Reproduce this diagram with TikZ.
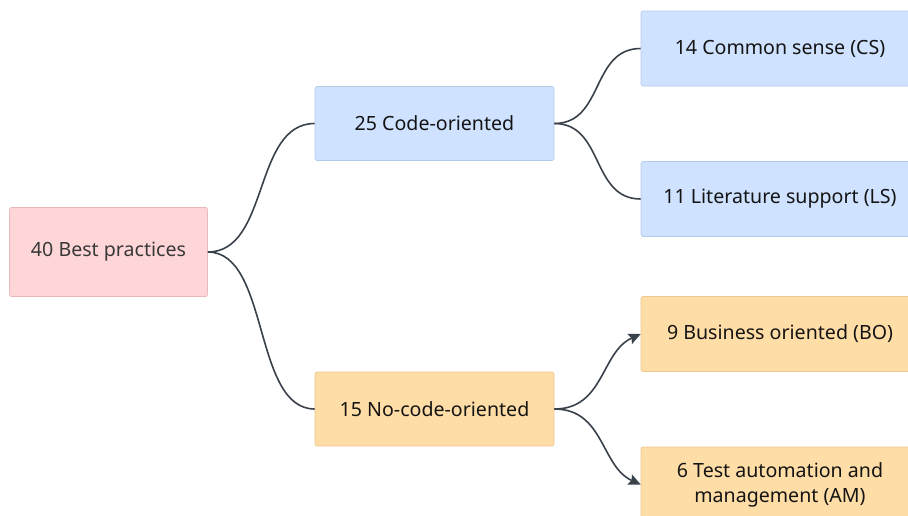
\documentclass[tikz,border=0pt]{standalone}
\usepackage{fontspec}
\setmainfont{Noto Sans}
\usetikzlibrary{arrows.meta}
\definecolor{pinkfill}{HTML}{FFD6D8}
\definecolor{pinkline}{HTML}{E8B8BB}
\definecolor{bluefill}{HTML}{CFE2FF}
\definecolor{blueline}{HTML}{B5CBEA}
\definecolor{orangefill}{HTML}{FFDDA6}
\definecolor{orangeline}{HTML}{EEC98E}
\definecolor{inktext}{HTML}{141414}
\definecolor{roottext}{HTML}{383838}
\definecolor{wire}{HTML}{39414B}
\tikzset{
  box/.style={rectangle, rounded corners=2pt, line width=0.6pt, inner sep=0pt,
    align=center, font=\fontsize{19.6}{25}\selectfont, text=inktext},
  rootbox/.style={box, fill=pinkfill, draw=pinkline, text=roottext,
    minimum width=198pt, minimum height=89pt},
  midblue/.style={box, fill=bluefill, draw=blueline, minimum width=239pt, minimum height=74pt},
  midorange/.style={box, fill=orangefill, draw=orangeline, minimum width=239pt, minimum height=74pt},
  leafblue/.style={box, fill=bluefill, draw=blueline, minimum width=278pt, minimum height=75pt},
  leaforange/.style={box, fill=orangefill, draw=orangeline, minimum width=278pt, minimum height=75pt},
  wirestyle/.style={draw=wire, line width=1.6pt},
  arrowwire/.style={wirestyle, -{Stealth[length=12pt, width=11pt, inset=2pt]}},
}
\begin{document}
\begin{tikzpicture}[x=1pt, y=-1pt]
  \useasboundingbox (0,0) rectangle (908,515);

  % root
  \node[rootbox] (root) at (108.5,252) {40 Best practices};

  % second level
  \node[midblue]   (code)   at (434.5,123.5) {25 Code-oriented};
  \node[midorange] (nocode) at (434.5,409)   {15 No-code-oriented};

  % leaves
  \node[leafblue]   (cs) at (780,48.5)  {14 Common sense (CS)};
  \node[leafblue]   (ls) at (780,199)   {11 Literature support (LS)};
  \node[leaforange] (bo) at (780,334)   {9 Business oriented (BO)};
  \node[leaforange] (am) at (780,484.5) {6 Test automation and\\management (AM)};

  % connectors
  \draw[wirestyle] (root.east) .. controls +(62,0) and +(-62,0) .. (code.west);
  \draw[wirestyle] (root.east) .. controls +(62,0) and +(-62,0) .. (nocode.west);
  \draw[wirestyle] (code.east) .. controls +(50,0) and +(-50,0) .. (cs.west);
  \draw[wirestyle] (code.east) .. controls +(50,0) and +(-50,0) .. (ls.west);
  \draw[arrowwire] (nocode.east) .. controls +(50,0) and +(-40,18) .. (bo.west);
  \draw[arrowwire] (nocode.east) .. controls +(50,0) and +(-40,-18) .. (am.west);
\end{tikzpicture}
\end{document}
